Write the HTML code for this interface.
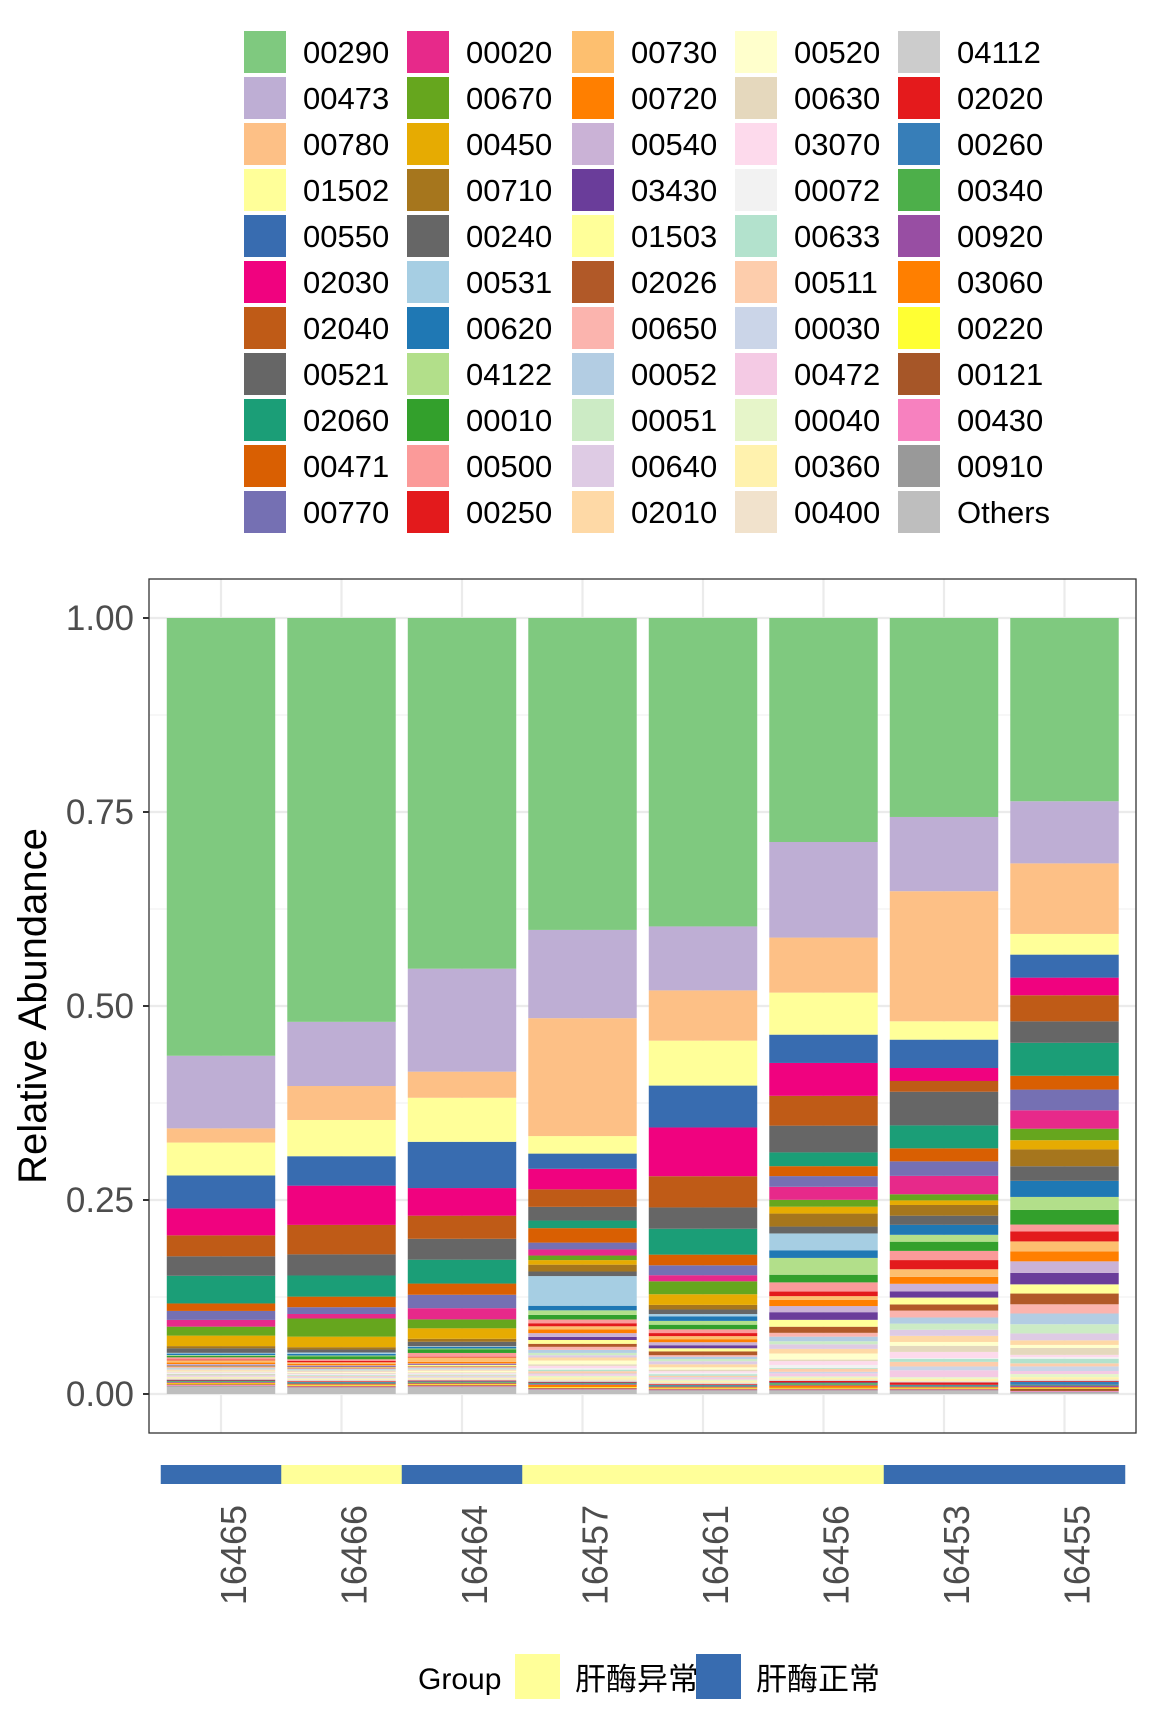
<!DOCTYPE html>
<html><head><meta charset="utf-8"><style>
html,body{margin:0;padding:0;background:#fff;}
svg{display:block;font-family:"Liberation Sans","Noto Sans CJK SC",sans-serif;}
</style></head><body>
<svg id="chart" width="1152" height="1728" viewBox="0 0 1152 1728" xmlns="http://www.w3.org/2000/svg">
<g id="legend"></g>
<g id="panel"></g>
<g id="groupbar"></g>
<text transform="translate(46,1006) rotate(-90)" text-anchor="middle" font-size="40" fill="#000">Relative Abundance</text>
<g>
<text x="418" y="1689" font-size="30" fill="#000">Group</text>
<rect x="515" y="1654" width="45" height="45" fill="#FFFF99"/>
<text x="575" y="1690" font-size="31" fill="#000">肝酶异常</text>
<rect x="696" y="1654" width="45" height="45" fill="#386CB0"/>
<text x="756" y="1690" font-size="31" fill="#000">肝酶正常</text>
</g>
</svg>
<script>
const categories = ["00290","00473","00780","01502","00550","02030","02040","00521","02060","00471","00770","00020","00670","00450","00710","00240","00531","00620","04122","00010","00500","00250","00730","00720","00540","03430","01503","02026","00650","00052","00051","00640","02010","00520","00630","03070","00072","00633","00511","00030","00472","00040","00360","00400","04112","02020","00260","00340","00920","03060","00220","00121","00430","00910","Others"];
const colors = ["#7FC97F","#BEAED4","#FDC086","#FFFF99","#386CB0","#F0027F","#BF5B17","#666666","#1B9E77","#D95F02","#7570B3","#E7298A","#66A61E","#E6AB02","#A6761D","#666666","#A6CEE3","#1F78B4","#B2DF8A","#33A02C","#FB9A99","#E31A1C","#FDBF6F","#FF7F00","#CAB2D6","#6A3D9A","#FFFF99","#B15928","#FBB4AE","#B3CDE3","#CCEBC5","#DECBE4","#FED9A6","#FFFFCC","#E5D8BD","#FDDAEC","#F2F2F2","#B3E2CD","#FDCDAC","#CBD5E8","#F4CAE4","#E6F5C9","#FFF2AE","#F1E2CC","#CCCCCC","#E41A1C","#377EB8","#4DAF4A","#984EA3","#FF7F00","#FFFF33","#A65628","#F781BF","#999999","#BEBEBE"];
const samples = ["16465","16466","16464","16457","16461","16456","16453","16455"];
const groups = ["normal","abnormal","normal","abnormal","abnormal","abnormal","normal","normal"];
const groupColors = {normal:"#386CB0", abnormal:"#FFFF99"};
const yTicks = [0, 0.25, 0.5, 0.75, 1];
const yTickLabels = ["0.00","0.25","0.50","0.75","1.00"];
const v16465 = [.585,.097,.019,.044,.044,.036,.028,.026,.037,.010,.012,.009,.012,.014,.003,.006,.001,.002,.001,.002,.003,.001,.003,.002,.001,.001,.001,.001,.001,.001,.001,.001,.001,.001,.001,.001,.001,.001,.001,.001,.001,.001,.001,.001,.001,.001,.001,.001,.001,.001,.001,.001,.001,.001,.010];
const v16466 = [.535,.085,.045,.048,.039,.052,.039,.028,.028,.014,.009,.006,.024,.014,.003,.004,.002,.002,.001,.004,.002,.002,.002,.002,.001,.001,.001,.001,.001,.001,.001,.001,.001,.001,.001,.001,.001,.001,.001,.001,.001,.001,.001,.001,.001,.001,.001,.001,.001,.001,.001,.001,.001,.001,.008];
const v16464 = [.470,.138,.035,.059,.062,.037,.031,.028,.032,.015,.018,.015,.012,.014,.004,.006,.001,.002,.001,.005,.005,.001,.006,.002,.001,.001,.002,.001,.001,.001,.001,.001,.001,.002,.001,.001,.001,.001,.001,.001,.001,.001,.001,.001,.001,.001,.001,.001,.001,.001,.001,.001,.001,.001,.009];
const v16457 = [.410,.116,.155,.023,.020,.027,.023,.018,.010,.019,.009,.008,.006,.006,.009,.006,.039,.006,.006,.006,.005,.004,.004,.005,.005,.004,.005,.004,.004,.004,.003,.003,.004,.005,.002,.003,.002,.002,.003,.001,.002,.002,.003,.002,.001,.001,.001,.001,.001,.003,.001,.001,.001,.001,.005];
const v16461 = [.405,.084,.066,.059,.055,.064,.041,.028,.034,.014,.013,.008,.017,.014,.006,.006,.003,.006,.005,.006,.005,.004,.004,.004,.004,.004,.004,.005,.002,.003,.003,.004,.004,.003,.002,.002,.002,.002,.002,.001,.002,.002,.002,.001,.001,.001,.001,.001,.001,.001,.001,.001,.001,.001,.004];
const v16456 = [.293,.125,.072,.055,.037,.043,.039,.035,.018,.013,.014,.017,.009,.009,.017,.009,.022,.010,.022,.010,.012,.006,.005,.008,.008,.010,.009,.008,.005,.006,.004,.006,.006,.008,.002,.005,.004,.001,.004,.002,.004,.002,.002,.001,.001,.002,.001,.002,.001,.003,.001,.001,.001,.001,.004];
const v16453 = [.260,.097,.170,.024,.037,.017,.014,.044,.030,.017,.019,.024,.008,.006,.014,.012,0,.013,.009,.012,.012,.012,.010,.009,.010,.008,.009,.008,.009,.008,.008,.008,.008,.005,.008,.008,.001,.004,.006,.005,.009,.002,.003,.001,.001,.003,.001,.001,.001,.001,.001,.001,.001,.001,.004];
const v16455 = [.239,.081,.092,.027,.030,.023,.034,.028,.043,.018,.027,.024,.015,.012,.022,.019,0,.021,.017,.019,.009,.013,.013,.013,.015,.015,.012,.014,.012,.014,.012,.009,.006,.004,.009,.003,.002,.006,.004,.006,.004,.004,.003,.001,.001,.001,.004,.001,.002,.001,.001,.003,.001,.001,.002];
const values = [v16465,v16466,v16464,v16457,v16461,v16456,v16453,v16455];

const NS = "http://www.w3.org/2000/svg";
function mk(tag, attrs, parent){const e=document.createElementNS(NS,tag);for(const k in attrs)e.setAttribute(k,attrs[k]);parent.appendChild(e);return e;}
const y0 = 1394, yUnit = 776;
function yScale(v){return y0 - v*yUnit;}
const xStep = 120.5, x1 = 221;
function xScale(i){return x1 + i*xStep;}
const barW = 0.9*xStep;
const panelL = 149, panelR = 1136, panelT = 579, panelB = 1433;

const leg = document.getElementById('legend');
const colX = [244,407,572,735,898];
categories.forEach((c,i)=>{
  const col = Math.floor(i/11), row = i%11;
  const x = colX[col], y = 31 + row*46;
  const r = mk('rect',{x:x,y:y,width:42,height:42,fill:colors[i]},leg);
  
  
  const t = mk('text',{x:x+59,y:y+32,'font-size':31,fill:'#000'},leg);
  
  
  t.textContent = c;
});

const p = document.getElementById('panel');
const bg = mk('rect',{x:panelL,y:panelT,width:panelR-panelL,height:panelB-panelT,fill:'#fff'},p);


[0.125,0.375,0.625,0.875].forEach(v=>{
  const l = mk('line',{x1:panelL,x2:panelR,y1:yScale(v),y2:yScale(v),stroke:'#F2F2F2','stroke-width':1.2},p);
  
  
});
yTicks.forEach(v=>{
  const l = mk('line',{x1:panelL,x2:panelR,y1:yScale(v),y2:yScale(v),stroke:'#EBEBEB','stroke-width':2.2},p);
  
  
});
samples.forEach((s,i)=>{
  const l = mk('line',{x1:xScale(i),x2:xScale(i),y1:panelT,y2:panelB,stroke:'#EBEBEB','stroke-width':2.2},p);
  
  
});
samples.forEach((s,i)=>{
  const vals = values[i];
  const tot = vals.reduce((a,b)=>a+b,0);
  let cum = 0;
  const g = mk('g',{},p);
  
  
  for(let k=vals.length-1;k>=0;k--){
    const v = vals[k]/tot;
    if(v<=0) continue;
    const yb = yScale(cum), yt = yScale(cum+v);
    const r = mk('rect',{x:xScale(i)-barW/2,y:yt,width:barW,height:yb-yt,fill:colors[k]},g);
    
    
    cum += v;
  }
});
const border = mk('rect',{x:panelL,y:panelT,width:panelR-panelL,height:panelB-panelT,fill:'none',stroke:'#333','stroke-width':1.3},p);


yTicks.forEach((v,i)=>{
  const tk = mk('line',{x1:panelL-6,x2:panelL,y1:yScale(v),y2:yScale(v),stroke:'#333','stroke-width':2},p);
  
  
  const t = mk('text',{x:134,y:yScale(v)+12,'text-anchor':'end','font-size':35,fill:'#4D4D4D'},p);
  
  
  t.textContent = yTickLabels[i];
});

const gb = document.getElementById('groupbar');
samples.forEach((s,i)=>{
  const r = mk('rect',{x:xScale(i)-xStep/2,y:1465,width:xStep+0.5,height:19,fill:groupColors[groups[i]]},gb);
  
  
  const t = mk('text',{transform:'translate('+(xScale(i)+25)+',1505) rotate(-90)','text-anchor':'end','font-size':36,fill:'#4D4D4D'},gb);
  
  
  t.textContent = s;
});
</script>
</body></html>
